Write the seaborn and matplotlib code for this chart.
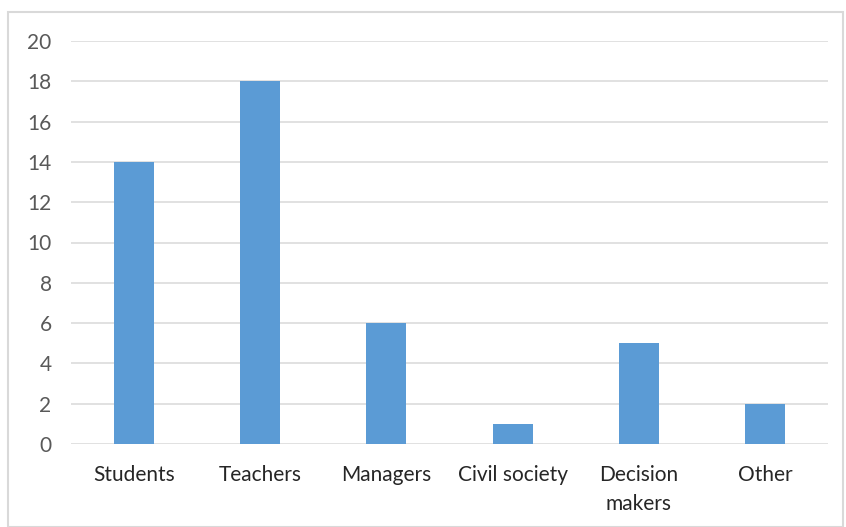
import matplotlib
matplotlib.use("Agg")
import matplotlib.pyplot as plt
import seaborn as sns
import pandas as pd
from matplotlib.patches import Rectangle

categories = ["Students", "Teachers", "Managers", "Civil society", "Decision\nmakers", "Other"]
values = [14, 18, 6, 1, 5, 2]
yticks = [0, 2, 4, 6, 8, 10, 12, 14, 16, 18, 20]

sns.set_theme(style="white")
plt.rcParams['font.family'] = ['Lato', 'DejaVu Sans']

W, H = 846, 527
fig = plt.figure(figsize=(W/100, H/100), dpi=100)
ax = fig.add_axes([71/W, 1-444/H, (828-71)/W, (444-41)/H])

df = pd.DataFrame({"cat": categories, "val": values})
sns.barplot(data=df, x="cat", y="val", color="#5B9BD5", width=0.317, ax=ax,
            saturation=1, linewidth=0)

ax.set_ylim(0, 20)
ax.set_xlim(-0.5, len(categories)-0.5)
ax.set_yticks(yticks)
ax.set_ylabel("")
ax.set_xlabel("")
ax.yaxis.grid(True, color="#D9D9D9", linewidth=1.1)
ax.set_axisbelow(True)
for s in ax.spines.values():
    s.set_visible(False)
ax.tick_params(axis="y", length=0, pad=14, labelsize=15, labelcolor="#595959")
ax.tick_params(axis="x", length=0, pad=15, labelsize=15, labelcolor="#262626")
for t in ax.get_xticklabels():
    t.set_linespacing(1.55)
    t.set_verticalalignment("top")

fig.patches.append(Rectangle((8/W, 0), (843-8)/W, 1-12/H, transform=fig.transFigure,
                             fill=False, edgecolor="#D9D9D9", linewidth=1.5))

fig.savefig("out.png", dpi=100)
